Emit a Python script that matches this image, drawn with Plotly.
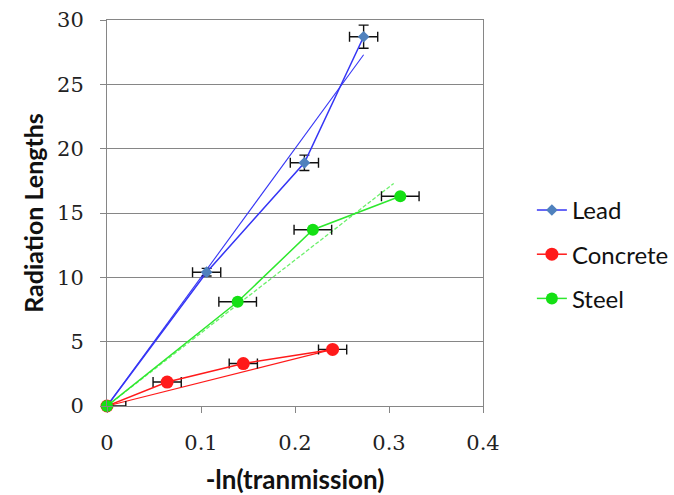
import plotly.graph_objects as go

# Measured points: -ln(transmission) vs. radiation lengths
lead_x = [0.0, 0.106, 0.210, 0.273]
lead_y = [0.0, 10.4, 18.9, 28.7]
lead_xerr = [0.0, 0.015, 0.015, 0.015]
lead_yerr = [0.0, 0.3, 0.6, 0.9]

concrete_x = [0.0, 0.064, 0.145, 0.240]
concrete_y = [0.0, 1.86, 3.3, 4.4]
concrete_xerr = [0.0, 0.015, 0.015, 0.015]

steel_x = [0.0, 0.139, 0.219, 0.312]
steel_y = [0.0, 8.1, 13.7, 16.3]
steel_xerr = [0.02, 0.02, 0.02, 0.02]
steel_xerr_minus = [0.0, 0.02, 0.02, 0.02]

# Straight reference lines from the origin for each material
lead_line_x = [0.0, 0.273]
lead_line_y = [0.0, 27.3]
concrete_line_x = [0.0, 0.240]
concrete_line_y = [0.0, 4.4]
steel_line_x = [0.0, 0.305]
steel_line_y = [0.0, 17.3]

x_ticks = [0, 0.1, 0.2, 0.3, 0.4]
x_tick_text = ["0", "0.1", "0.2", "0.3", "0.4"]
y_ticks = [0, 5, 10, 15, 20, 25, 30]

BLUE = "#3535f5"
BLUE_MARK = "#4f81bd"
RED = "#ff1a1a"
GREEN = "#2ee82e"
GREEN_LIGHT = "#6cf06c"
GREEN_MARK = "#14e014"

err_style = dict(color="#111111", thickness=1.4, width=5)

fig = go.Figure()

# Lead
fig.add_trace(go.Scatter(
    x=lead_line_x, y=lead_line_y, mode="lines",
    line=dict(color=BLUE, width=1.1), showlegend=False,
    legendgroup="lead", hoverinfo="skip"))
fig.add_trace(go.Scatter(
    x=lead_x, y=lead_y, mode="lines+markers", name="Lead",
    legendgroup="lead",
    line=dict(color=BLUE, width=1.5),
    marker=dict(symbol="diamond", size=9, color=BLUE_MARK),
    error_x=dict(type="data", array=lead_xerr, **err_style),
    error_y=dict(type="data", array=lead_yerr, **err_style),
    cliponaxis=False))

# Concrete
fig.add_trace(go.Scatter(
    x=concrete_line_x, y=concrete_line_y, mode="lines",
    line=dict(color=RED, width=1.1), showlegend=False,
    legendgroup="concrete", hoverinfo="skip"))
fig.add_trace(go.Scatter(
    x=concrete_x, y=concrete_y, mode="lines+markers", name="Concrete",
    legendgroup="concrete",
    line=dict(color=RED, width=1.5),
    marker=dict(symbol="circle", size=13, color=RED),
    error_x=dict(type="data", array=concrete_xerr, **err_style),
    cliponaxis=False))

# Steel
fig.add_trace(go.Scatter(
    x=steel_line_x, y=steel_line_y, mode="lines",
    line=dict(color=GREEN_LIGHT, width=1.3, dash="4px,2px"), showlegend=False,
    legendgroup="steel", hoverinfo="skip"))
fig.add_trace(go.Scatter(
    x=steel_x, y=steel_y, mode="lines+markers", name="Steel",
    legendgroup="steel",
    line=dict(color=GREEN, width=1.5),
    marker=dict(symbol="circle", size=12, color=GREEN_MARK),
    error_x=dict(type="data", array=steel_xerr,
                 arrayminus=steel_xerr_minus, symmetric=False, **err_style),
    cliponaxis=False))

axis_common = dict(
    showline=True, linecolor="#868686", linewidth=1, mirror=True,
    ticks="outside", ticklen=6, tickcolor="#868686",
    zeroline=False,
    tickfont=dict(family="DejaVu Serif", size=21, color="#222222"),
)

fig.update_layout(
    width=674, height=495,
    margin=dict(l=107, r=191, t=20, b=89, autoexpand=False),
    paper_bgcolor="white", plot_bgcolor="white",
    font=dict(family="Lato", color="#111111"),
    xaxis=dict(
        range=[0, 0.4], tickvals=x_ticks, ticktext=x_tick_text,
        showgrid=False, ticklabelstandoff=12,
        title=dict(text="<b>-ln(tranmission)</b>",
                   font=dict(family="Lato", size=26), standoff=18),
        **axis_common),
    yaxis=dict(
        range=[0, 30], tickvals=y_ticks,
        showgrid=True, gridcolor="#868686", gridwidth=1,
        ticklabelstandoff=12,
        title=dict(text="<b>Radiation Lengths</b>",
                   font=dict(family="Lato", size=25), standoff=6),
        **axis_common),
    legend=dict(
        x=1.13, xanchor="left", y=0.565, yanchor="top",
        font=dict(family="Lato", size=24, color="#111111"),
        traceorder="grouped", tracegroupgap=10,
        bgcolor="rgba(0,0,0,0)"),
)

fig.write_html("out.html")
